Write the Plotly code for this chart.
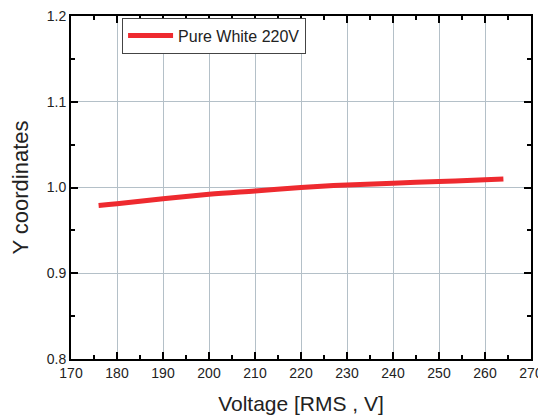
import plotly.graph_objects as go

# ------- Data --------
voltage = [176, 180, 190, 200, 210, 220, 230, 240, 250, 260, 264]
y_coord = [0.979, 0.981, 0.987, 0.992, 0.996, 1.000, 1.003, 1.005, 1.007, 1.009, 1.010]
series_name = "Pure White 220V"

font = "Liberation Sans, Arial, sans-serif"
grid = "#b4c0c8"
text_col = "#222"

fig = go.Figure()
fig.add_scatter(x=voltage, y=y_coord, name=series_name, mode="lines",
                line=dict(color="#ee2a2f", width=5, shape="spline"))

axis_style = dict(showline=True, linewidth=2, linecolor="black", mirror="ticks",
                  ticks="inside", ticklen=7, tickwidth=1.5, tickcolor="black",
                  showgrid=True, gridcolor=grid, gridwidth=1, zeroline=False,
                  automargin=False, ticklabeloverflow="allow",
                  tickfont=dict(family=font, size=14, color=text_col))

fig.update_xaxes(range=[170, 270], dtick=10, title_text="Voltage [RMS , V]",
                 title_font=dict(family=font, size=21, color=text_col), title_standoff=17,
                 minor=dict(dtick=5, ticks="inside", ticklen=4, tickcolor="black", showgrid=False),
                 **axis_style)
fig.update_yaxes(range=[0.8, 1.2], dtick=0.1, tickformat=".1f", title_text="Y coordinates",
                 title_font=dict(family=font, size=22, color=text_col), title_standoff=14,
                 minor=dict(dtick=0.05, ticks="inside", ticklen=4, tickcolor="black", showgrid=False),
                 **axis_style)

# page body adds an 8px offset, so the figure is drawn 8px smaller
fig.update_layout(
    width=538, height=410,
    margin=dict(l=63, r=15, t=8, b=59),
    plot_bgcolor="white", paper_bgcolor="white",
    font=dict(family=font),
    showlegend=True,
    legend=dict(x=0.111, y=0.995, xanchor="left", yanchor="top",
                bordercolor="#444", borderwidth=1, bgcolor="white",
                itemwidth=45,
                font=dict(family=font, size=16, color=text_col)),
)

fig.write_html("out.html")
